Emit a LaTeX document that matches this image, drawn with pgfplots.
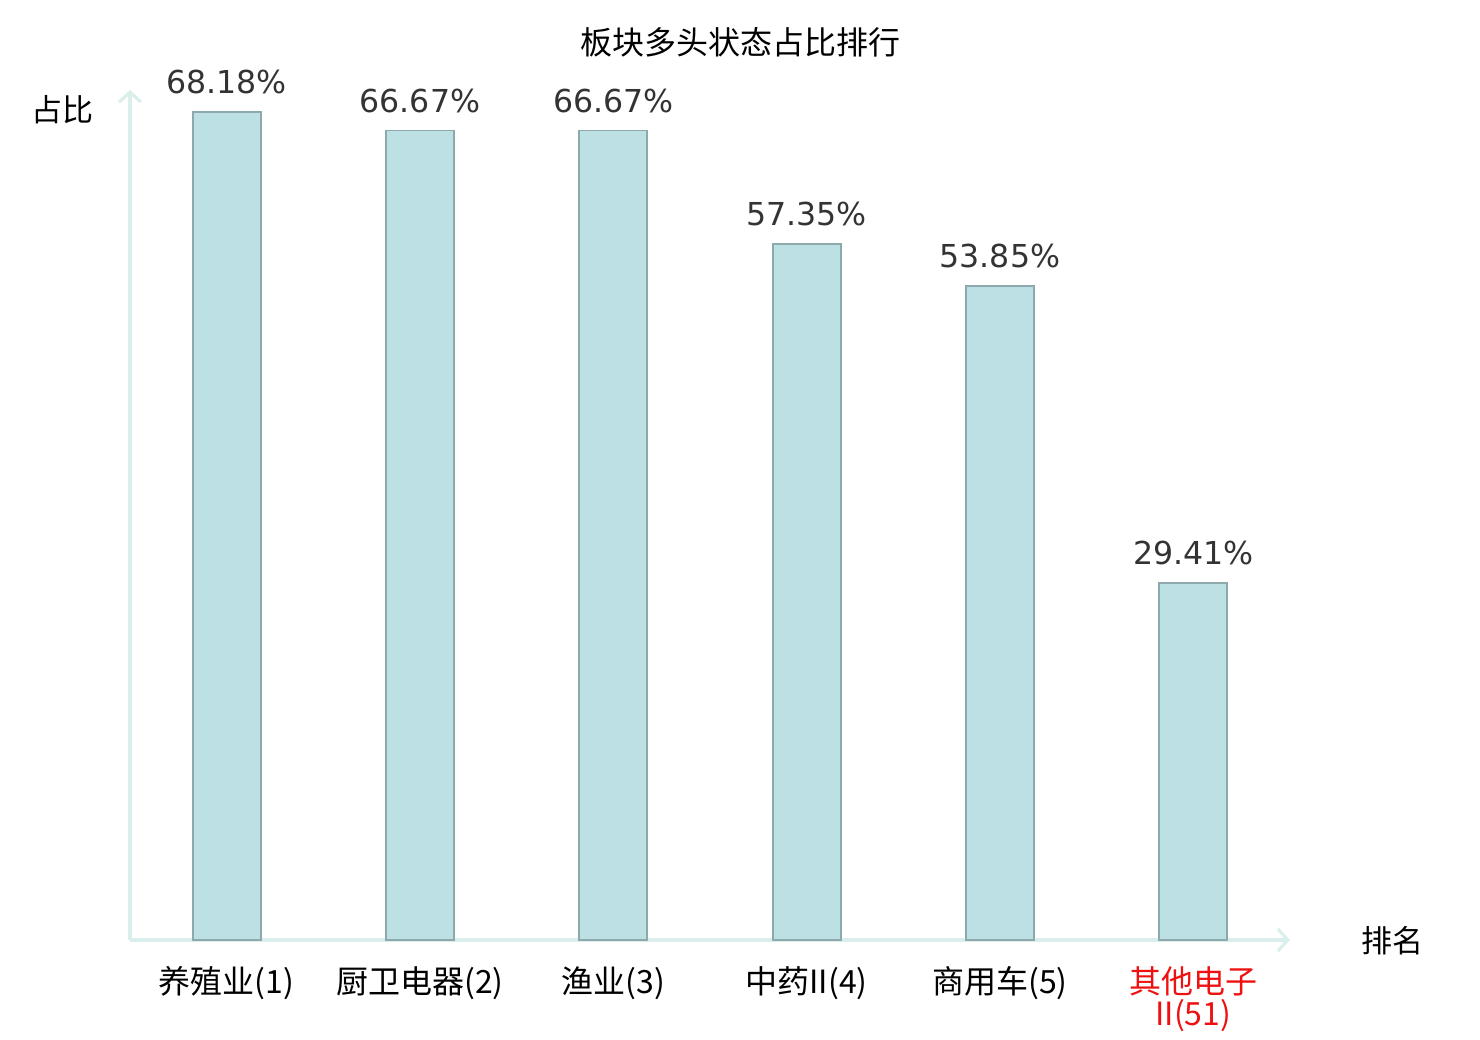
\documentclass[border=0pt]{standalone}
\usepackage{pgfplots}
\pgfplotsset{compat=1.18}
\usepackage{fontspec}
\setmainfont{DejaVu Sans}
\newfontfamily\cjk{Noto Sans CJK SC}
\usetikzlibrary{arrows.meta}
\definecolor{barfill}{HTML}{BCE0E3}
\definecolor{bardraw}{HTML}{8EA9AC}
\definecolor{axcol}{HTML}{DAEFEC}
\definecolor{valcol}{HTML}{333333}
\definecolor{redlab}{HTML}{EE1111}
\begin{document}
\begin{tikzpicture}
\path[use as bounding box] (0,0) rectangle (740pt,520pt);
\begin{axis}[
  at={(65pt,50pt)}, anchor=south west,
  scale only axis, width=580pt, height=425pt,
  xmin=-0.5, xmax=5.5, ymin=0, ymax=70,
  axis x line=bottom, axis y line=left,
  axis line style={draw=axcol, line width=1.6pt, -{Straight Barb[length=5pt,width=11pt,line width=1.6pt]}},
  ytick=\empty,
  xtick=data,
  major tick length=0pt,
  xticklabels={养殖业(1),厨卫电器(2),渔业(3),中药II(4),商用车(5),{\textcolor{redlab}{其他电子}\\\textcolor{redlab}{II(51)}}},
  xticklabel style={font=\cjk\fontsize{16}{16}\selectfont, anchor=north, inner sep=0pt, yshift=-13pt, align=center, text=black},
  ybar, bar width=34pt,
  /pgf/number format/assume math mode=true,
  nodes near coords={\pgfmathprintnumber[fixed,precision=2,zerofill,assume math mode=true]{\pgfplotspointmeta}\%},
  nodes near coords style={font=\fontsize{15.8}{18}\selectfont, text=valcol, anchor=south, inner sep=0pt, yshift=8.5pt},
  clip=false,
]
\addplot[fill=barfill, draw=bardraw, line width=0.9pt] coordinates {(0,68.18) (1,66.67) (2,66.67) (3,57.35) (4,53.85) (5,29.41)};
\end{axis}
\node[font=\cjk\fontsize{16}{16}\selectfont] at (370pt,499pt) {板块多头状态占比排行};
\node[font=\cjk\fontsize{15.5}{16}\selectfont] at (31.5pt,465pt) {占比};
\node[font=\cjk\fontsize{15.5}{16}\selectfont] at (696pt,49.5pt) {排名};
\end{tikzpicture}
\end{document}
